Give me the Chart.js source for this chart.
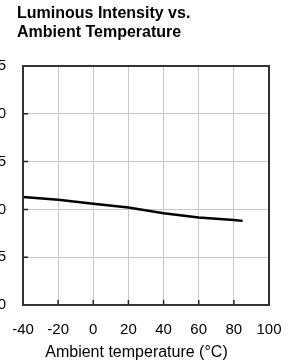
<!DOCTYPE html>
<html>
<head>
<meta charset="utf-8">
<script src="https://cdn.jsdelivr.net/npm/chart.js@4"></script>
<style>
  html, body { margin: 0; padding: 0; background: #fff; overflow: hidden; width: 299px; height: 364px; }
  #wrap { position: relative; width: 299px; height: 364px; overflow: hidden; }
  #c { position: absolute; left: -30px; top: 0; }
  #title { position: absolute; left: 17px; top: 3px; font: bold 16px "Liberation Sans", Arial, sans-serif; line-height: 19px; color: #000; white-space: nowrap; }
  #xtitle { position: absolute; left: 136.5px; top: 341.5px; transform: translateX(-50%); font: 16px "Liberation Sans", Arial, sans-serif; line-height: 19px; color: #000; white-space: nowrap; }
</style>
</head>
<body>
<div id="wrap">
  <canvas id="c" width="329" height="364"></canvas>
  <div id="title">Luminous Intensity vs.<br>Ambient Temperature</div>
  <div id="xtitle">Ambient temperature (°C)</div>
</div>
<script>
const temperatures = [-40, -20, 0, 20, 40, 60, 80, 85];
const relativeIntensity = [1.13, 1.10, 1.06, 1.02, 0.96, 0.915, 0.89, 0.88];
const xTicks = [-40, -20, 0, 20, 40, 60, 80, 100];
const yTicks = [0, 0.5, 1.0, 1.5, 2.0, 2.5];

const frameAndTicks = {
  id: 'frameAndTicks',
  afterDatasetsDraw(chart) {
    const { ctx, chartArea: a, scales } = chart;
    ctx.save();
    ctx.strokeStyle = '#222';
    ctx.lineWidth = 1.5;
    ctx.beginPath();
    xTicks.forEach(v => {
      const px = scales.x.getPixelForValue(v);
      ctx.moveTo(px, a.bottom);
      ctx.lineTo(px, a.bottom - 5);
    });
    yTicks.forEach(v => {
      const py = scales.y.getPixelForValue(v);
      ctx.moveTo(a.left, py);
      ctx.lineTo(a.left + 5, py);
    });
    ctx.stroke();
    ctx.lineWidth = 2;
    ctx.strokeStyle = '#333';
    ctx.strokeRect(a.left, a.top, a.right - a.left, a.bottom - a.top);
    ctx.restore();
  }
};

new Chart(document.getElementById('c'), {
  type: 'line',
  data: {
    datasets: [{
      data: temperatures.map((t, i) => ({ x: t, y: relativeIntensity[i] })),
      borderColor: '#000',
      borderWidth: 2.5,
      pointRadius: 0,
      tension: 0,
      fill: false
    }]
  },
  options: {
    responsive: false,
    animation: false,
    devicePixelRatio: 1,
    layout: { padding: { top: 66, right: 30, left: 0, bottom: 0 } },
    plugins: { legend: { display: false }, title: { display: false }, tooltip: { enabled: false } },
    scales: {
      x: {
        type: 'linear',
        min: -40, max: 100,
        afterBuildTicks: s => { s.ticks = xTicks.map(v => ({ value: v })); },
        afterFit: s => { s.height = 59; },
        ticks: { font: { family: '"Liberation Sans", Arial, sans-serif', size: 15 }, color: '#000', padding: 16, maxRotation: 0, autoSkip: false },
        grid: { color: '#c8c8c8', lineWidth: 1, drawTicks: false },
        border: { display: false }
      },
      y: {
        type: 'linear',
        min: 0, max: 2.5,
        afterBuildTicks: s => { s.ticks = yTicks.map(v => ({ value: v })); },
        afterFit: s => { s.width = 53; },
        ticks: { font: { family: '"Liberation Sans", Arial, sans-serif', size: 15 }, color: '#000', padding: 17, callback: v => Number(v).toFixed(1) },
        grid: { color: '#c8c8c8', lineWidth: 1, drawTicks: false },
        border: { display: false }
      }
    }
  },
  plugins: [frameAndTicks]
});
</script>
</body>
</html>
